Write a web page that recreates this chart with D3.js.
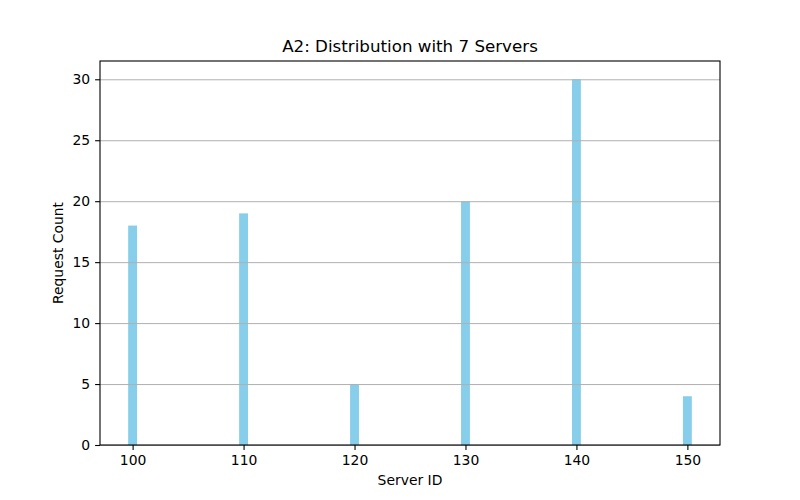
<!DOCTYPE html>
<html><head><meta charset="utf-8">
<script src="https://cdn.jsdelivr.net/npm/d3@7"></script>
<style>body{margin:0;background:#fff;} text{font-family:"DejaVu Sans",sans-serif;}</style>
</head><body><svg id="c" width="800" height="500"></svg>
<script>
const serverIds = [100, 110, 120, 130, 140, 150];
const requestCounts = [18, 19, 5, 20, 30, 4];
const xTicks = [100, 110, 120, 130, 140, 150];
const yTicks = [0, 5, 10, 15, 20, 25, 30];
const titleText = "A2: Distribution with 7 Servers";
const xLabel = "Server ID";
const yLabel = "Request Count";

const svg = d3.select("#c");
const L = 100, R = 720, T = 61, B = 445;
const barW = 0.8;
const x = d3.scaleLinear().domain([99.6 - 2.54, 150.4 + 2.54]).range([L, R]);
const y = d3.scaleLinear().domain([0, 31.5]).range([B, T]);

const data = serverIds.map((s, i) => ({s, v: requestCounts[i]}));
svg.append("g").selectAll("rect").data(data).enter().append("rect")
  .attr("x", d => x(d.s - barW/2)).attr("width", d => x(d.s + barW/2) - x(d.s - barW/2))
  .attr("y", d => y(d.v)).attr("height", d => y(0) - y(d.v))
  .attr("fill", "#87ceeb");

// grid over bars
svg.append("g").selectAll("line").data(yTicks).enter().append("line")
  .attr("x1", L).attr("x2", R).attr("y1", d => y(d) + 0.5).attr("y2", d => y(d) + 0.5)
  .attr("stroke", "#b0b0b0").attr("stroke-width", 1);

const fs = "13.9px";
const xa = svg.append("g").attr("transform", `translate(0,${B})`)
  .call(d3.axisBottom(x).tickValues(xTicks).tickSize(4.9).tickPadding(5).tickFormat(d3.format("d")));
const ya = svg.append("g").attr("transform", `translate(${L},0)`)
  .call(d3.axisLeft(y).tickValues(yTicks).tickSize(4.9).tickPadding(5).tickFormat(d3.format("d")));
[xa, ya].forEach(a => {
  a.select(".domain").remove();
  a.selectAll("text").style("font-size", fs).attr("fill", "#000");
  a.selectAll("line").attr("stroke", "#000").attr("stroke-width", 1.1);
});

svg.append("rect").attr("x", L).attr("y", T).attr("width", R - L).attr("height", B - T)
  .attr("fill", "none").attr("stroke", "#000").attr("stroke-width", 1.1);

svg.append("text").attr("x", (L + R) / 2).attr("y", T - 9).attr("text-anchor", "middle")
  .style("font-size", "16.7px").text(titleText);
svg.append("text").attr("x", (L + R) / 2).attr("y", 485).attr("text-anchor", "middle")
  .style("font-size", fs).text(xLabel);
svg.append("text").attr("transform", `translate(63,${(T + B) / 2}) rotate(-90)`).attr("text-anchor", "middle")
  .style("font-size", fs).text(yLabel);
</script></body></html>
